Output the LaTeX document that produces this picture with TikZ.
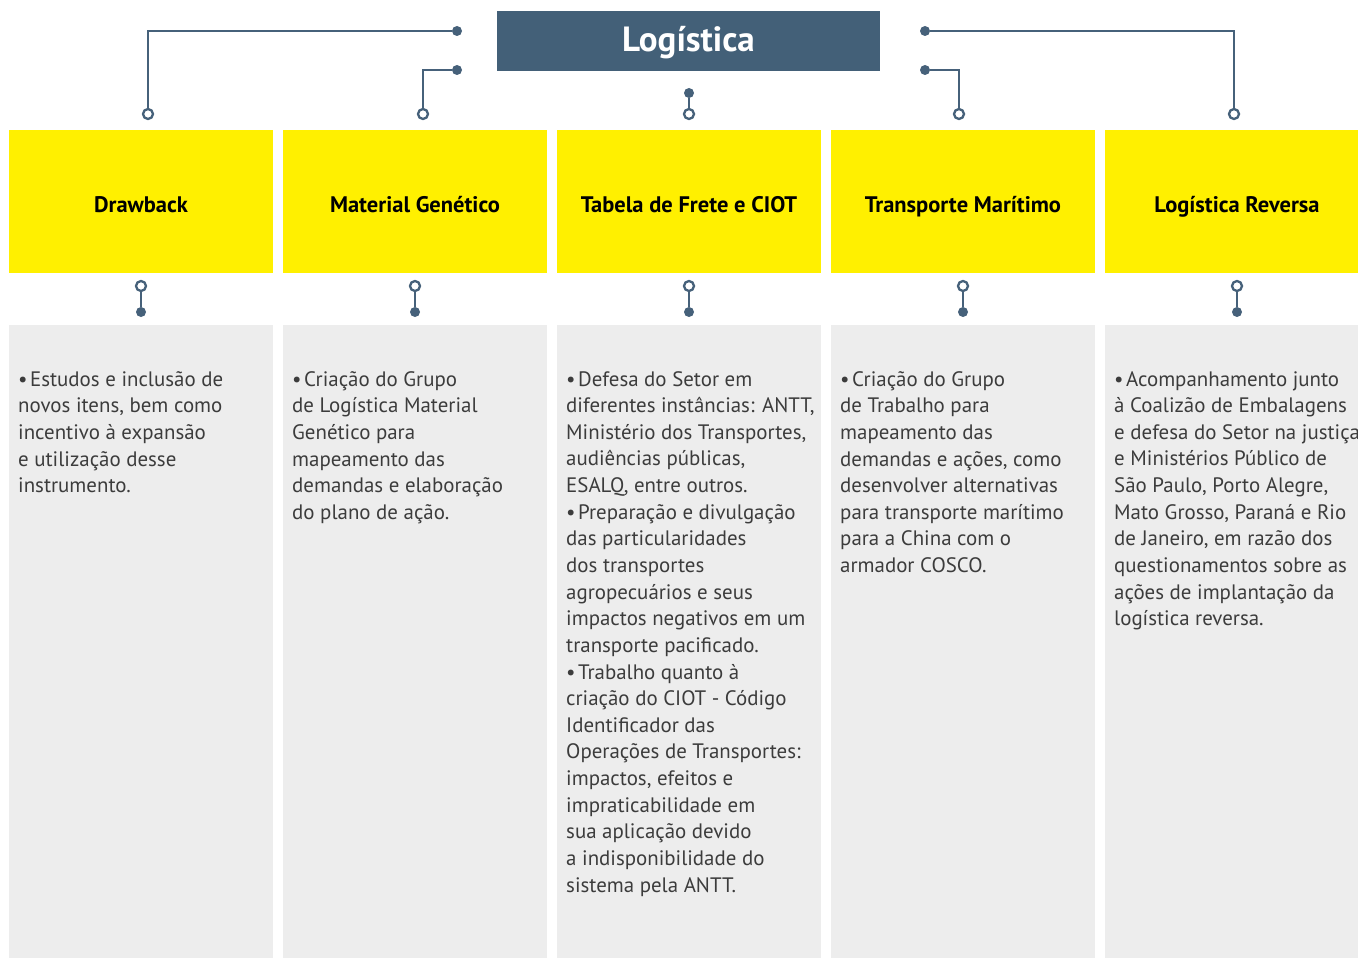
\documentclass[tikz,border=0pt]{standalone}
\usepackage{fontspec}
\setmainfont{PT Sans}
\definecolor{navy}{HTML}{436078}
\definecolor{yel}{HTML}{FFF000}
\definecolor{gry}{HTML}{EDEDED}
\definecolor{txt}{HTML}{3C3C3C}
\definecolor{ln}{HTML}{46617A}
\newcommand{\bul}{•\hspace{2.5pt}}
\tikzset{
  head/.style={fill=yel, draw=none, minimum width=264, minimum height=143, inner sep=0, anchor=north west},
  panel/.style={fill=gry, draw=none, minimum width=264, minimum height=640, inner sep=0, anchor=north west},
  body/.style={anchor=north west, inner sep=0, align=left, text=txt, font=\fontsize{20.9}{26.63}\selectfont},
  dotn/.style={circle, fill=ln, draw=none, inner sep=0, minimum size=10},
  ringn/.style={circle, draw=ln, line width=2.3, fill=white, inner sep=0, minimum size=10},
  conn/.style={draw=ln, line width=2.5},
  htxt/.style={text=black, anchor=base, inner sep=0, font=\fontsize{22.5}{26}\selectfont\bfseries}
}
\begin{document}
\begin{tikzpicture}[x=1pt,y=-1pt]
\useasboundingbox (0,0) rectangle (1358,958);
\clip (0,0) rectangle (1358,958);
% title
\node[fill=navy, minimum width=383, minimum height=60, inner sep=0, text=white, font=\fontsize{35}{40}\selectfont\bfseries] (T) at (688.5,41) {};
\node[text=white, anchor=base, inner sep=0, font=\fontsize{35}{40}\selectfont\bfseries] (TT) at (688.5,52) {Logística};
% header boxes
\foreach \i/\x in {1/9,2/283,3/557,4/831,5/1105}{
  \node[head] (h\i) at (\x,130) {};
  \node[panel] (b\i) at (\x,325) {};
}
\node[htxt] (t1) at (141,212) {Drawback};
\node[htxt] (t2) at (415,212) {Material Genético};
\node[htxt] (t3) at (689,212) {Tabela de Frete e CIOT};
\node[htxt] (t4) at (963,212) {Transporte Marítimo};
\node[htxt] (t5) at (1237,212) {Logística Reversa};
% top connectors
\node[dotn] (d1) at (457,31) {};
\node[dotn] (d2) at (457,70) {};
\node[dotn] (d3) at (689,93) {};
\node[dotn] (d4) at (925,70) {};
\node[dotn] (d5) at (925,31) {};
\node[ringn] (r1) at (148,114) {};
\node[ringn] (r2) at (423,114) {};
\node[ringn] (r3) at (689,114) {};
\node[ringn] (r4) at (959,114) {};
\node[ringn] (r5) at (1234,114) {};
\draw[conn] (d1) -| (r1);
\draw[conn] (d2) -| (r2);
\draw[conn] (d3) -- (r3);
\draw[conn] (d4) -| (r4);
\draw[conn] (d5) -| (r5);
% bottom connectors
\foreach \i/\x in {1/141,2/415,3/689,4/963,5/1237}{
  \node[ringn] (u\i) at (\x,286) {};
  \node[dotn] (v\i) at (\x,312) {};
  \draw[conn] (u\i) -- (v\i);
}
% body texts
\node[body] (p1) at (18,371) {\bul Estudos e inclusão de\\novos itens, bem como\\incentivo à expansão\\e utilização desse\\instrumento.};
\node[body] (p2) at (292,371) {\bul Criação do Grupo\\de Logística Material\\Genético para\\mapeamento das\\demandas e elaboração\\do plano de ação.};
\node[body] (p3) at (566,371) {\bul Defesa do Setor em\\diferentes instâncias: ANTT,\\Ministério dos Transportes,\\audiências públicas,\\ESALQ, entre outros.\\\bul Preparação e divulgação\\das particularidades\\dos transportes\\agropecuários e seus\\impactos negativos em um\\transporte pacificado.\\\bul Trabalho quanto à\\criação do CIOT - Código\\Identificador das\\Operações de Transportes:\\impactos, efeitos e\\impraticabilidade em\\sua aplicação devido\\a indisponibilidade do\\sistema pela ANTT.};
\node[body] (p4) at (840,371) {\bul Criação do Grupo\\de Trabalho para\\mapeamento das\\demandas e ações, como\\desenvolver alternativas\\para transporte marítimo\\para a China com o\\armador COSCO.};
\node[body] (p5) at (1114,371) {\bul Acompanhamento junto\\à Coalizão de Embalagens\\e defesa do Setor na justiça\\e Ministérios Público de\\São Paulo, Porto Alegre,\\Mato Grosso, Paraná e Rio\\de Janeiro, em razão dos\\questionamentos sobre as\\ações de implantação da\\logística reversa.};
\end{tikzpicture}
\end{document}
